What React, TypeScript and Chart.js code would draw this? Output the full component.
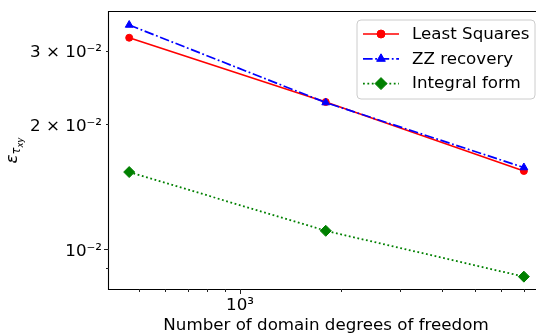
import React, { useEffect, useRef } from 'react';
import { Chart, registerables } from 'chart.js';

Chart.register(...registerables);

// ---- data ----
const dofs = [468, 1800, 7000];
const leastSquares = [0.0322, 0.02256, 0.0154];
const zzRecovery = [0.03455, 0.02249, 0.0157];
const integralForm = [0.01531, 0.01106, 0.00858];
const seriesNames = ['Least Squares', 'ZZ recovery', 'Integral form'];

const xRange = [407.5, 7980];
const yRange = [0.008013, 0.03713];

const xLabelledTicks = [1000];
const xTickLabels = ['10³'];
const xMajorTicks = [1000];
const xMinorTicks = [500, 600, 700, 800, 900, 2000, 3000, 4000, 5000, 6000, 7000];

const yLabelledTicks = [0.01, 0.02, 0.03];
const yTickLabels = ['10⁻²', '2 × 10⁻²', '3 × 10⁻²'];
const yMajorTicks = [0.01];
const yMinorTicks = [0.008, 0.009, 0.02, 0.03];

const xTitle = 'Number of domain degrees of freedom';
const yTitleParts = ['ε', 'τ', 'xy'];

const FONT = '"DejaVu Sans", sans-serif';
const FS = 16.7;

function drawMarker(ctx: CanvasRenderingContext2D, style: string, x: number, y: number, r: number, color: string) {
  ctx.save();
  ctx.fillStyle = color;
  ctx.strokeStyle = color;
  ctx.lineWidth = 1;
  ctx.setLineDash([]);
  ctx.beginPath();
  if (style === 'circle') {
    ctx.arc(x, y, r, 0, Math.PI * 2);
  } else if (style === 'triangle') {
    for (let k = 0; k < 3; k++) {
      const a = (k * 2 * Math.PI) / 3;
      const px = x + Math.sin(a) * r;
      const py = y - Math.cos(a) * r;
      if (k === 0) ctx.moveTo(px, py);
      else ctx.lineTo(px, py);
    }
    ctx.closePath();
  } else {
    ctx.moveTo(x - r, y);
    ctx.lineTo(x, y - r);
    ctx.lineTo(x + r, y);
    ctx.lineTo(x, y + r);
    ctx.closePath();
  }
  ctx.fill();
  ctx.stroke();
  ctx.restore();
}

const mplPlugin = {
  id: 'mplAxes',
  afterDatasetsDraw(chart: any) {
    const { ctx, chartArea: a, scales } = chart;
    const xs = scales.x;
    const ys = scales.y;
    ctx.save();
    // spines
    ctx.strokeStyle = '#000';
    ctx.lineWidth = 1.1;
    ctx.setLineDash([]);
    ctx.beginPath();
    ctx.rect(a.left - 0.5, a.top - 0.5, a.right - a.left + 1, a.bottom - a.top + 1);
    ctx.stroke();
    // ticks
    ctx.lineWidth = 1;
    ctx.strokeStyle = '#222';
    const inX = (v: number) => v >= xRange[0] && v <= xRange[1];
    const inY = (v: number) => v >= yRange[0] && v <= yRange[1];
    const xt = (vals: number[], len: number) => {
      vals.filter(inX).forEach((v) => {
        const px = Math.round(xs.getPixelForValue(v)) + 0.5;
        ctx.beginPath();
        ctx.moveTo(px, a.bottom);
        ctx.lineTo(px, a.bottom + len);
        ctx.stroke();
      });
    };
    const yt = (vals: number[], len: number) => {
      vals.filter(inY).forEach((v) => {
        const py = Math.round(ys.getPixelForValue(v)) + 0.5;
        ctx.beginPath();
        ctx.moveTo(a.left, py);
        ctx.lineTo(a.left - len, py);
        ctx.stroke();
      });
    };
    xt(xMajorTicks, 5);
    xt(xMinorTicks, 3);
    yt(yMajorTicks, 5);
    yt(yMinorTicks, 3);

    // legend
    const bw = 178;
    const bh = 79;
    const bx = a.right - 8 - bw;
    const by = a.top + 8;
    const rr = 4;
    ctx.beginPath();
    ctx.moveTo(bx + rr, by);
    ctx.lineTo(bx + bw - rr, by);
    ctx.arcTo(bx + bw, by, bx + bw, by + rr, rr);
    ctx.lineTo(bx + bw, by + bh - rr);
    ctx.arcTo(bx + bw, by + bh, bx + bw - rr, by + bh, rr);
    ctx.lineTo(bx + rr, by + bh);
    ctx.arcTo(bx, by + bh, bx, by + bh - rr, rr);
    ctx.lineTo(bx, by + rr);
    ctx.arcTo(bx, by, bx + rr, by, rr);
    ctx.closePath();
    ctx.fillStyle = 'rgba(255,255,255,0.8)';
    ctx.fill();
    ctx.strokeStyle = '#cccccc';
    ctx.lineWidth = 1;
    ctx.stroke();

    chart.data.datasets.forEach((ds: any, i: number) => {
      const cy = by + 14 + i * 24.8;
      const x0 = bx + 6;
      const x1 = bx + 42;
      ctx.save();
      ctx.strokeStyle = ds.borderColor;
      ctx.lineWidth = ds.borderWidth;
      ctx.setLineDash(ds.borderDash || []);
      ctx.beginPath();
      ctx.moveTo(x0, cy);
      ctx.lineTo(x1, cy);
      ctx.stroke();
      ctx.restore();
      drawMarker(ctx, ds.pointStyle, (x0 + x1) / 2, cy, ds.pointRadius + 0.5, ds.borderColor);
      ctx.fillStyle = '#000';
      ctx.font = `${FS}px ${FONT}`;
      ctx.textBaseline = 'middle';
      ctx.textAlign = 'left';
      ctx.fillText(ds.label, bx + 55, cy + 0.5);
    });

    // y title (rotated, with nested subscripts)
    ctx.save();
    ctx.translate(17, (a.top + a.bottom) / 2);
    ctx.rotate(-Math.PI / 2);
    ctx.fillStyle = '#000';
    ctx.textBaseline = 'alphabetic';
    ctx.textAlign = 'left';
    const f0 = `italic ${FS}px ${FONT}`;
    const f1 = `italic ${FS * 0.7}px ${FONT}`;
    const f2 = `italic ${FS * 0.5}px ${FONT}`;
    ctx.font = f0;
    const w0 = ctx.measureText(yTitleParts[0]).width;
    ctx.font = f1;
    const w1 = ctx.measureText(yTitleParts[1]).width;
    ctx.font = f2;
    const w2 = ctx.measureText(yTitleParts[2]).width;
    const total = w0 + w1 + w2;
    let cx = -total / 2;
    ctx.font = f0;
    ctx.fillText(yTitleParts[0], cx, 0);
    cx += w0;
    ctx.font = f1;
    ctx.fillText(yTitleParts[1], cx, 3);
    cx += w1;
    ctx.font = f2;
    ctx.fillText(yTitleParts[2], cx, 6);
    ctx.restore();

    ctx.restore();
  },
};

export default function App() {
  const ref = useRef<HTMLCanvasElement | null>(null);
  useEffect(() => {
    if (!ref.current) return;
    const mk = (vals: number[]) => dofs.map((d, i) => ({ x: d, y: vals[i] }));
    const chart = new Chart(ref.current, {
      type: 'line',
      data: {
        datasets: [
          {
            label: seriesNames[0],
            data: mk(leastSquares),
            borderColor: '#ff0000',
            backgroundColor: '#ff0000',
            pointBackgroundColor: '#ff0000',
            pointBorderColor: '#ff0000',
            pointStyle: 'circle',
            pointRadius: 3.5,
            pointBorderWidth: 1,
            borderWidth: 1.7,
            order: 1,
          },
          {
            label: seriesNames[1],
            data: mk(zzRecovery),
            borderColor: '#0000ff',
            backgroundColor: '#0000ff',
            pointBackgroundColor: '#0000ff',
            pointBorderColor: '#0000ff',
            pointStyle: 'triangle',
            pointRadius: 4.5,
            pointBorderWidth: 1,
            borderWidth: 1.7,
            borderDash: [9.6, 2.6, 1.8, 2.6],
            order: 0,
          },
          {
            label: seriesNames[2],
            data: mk(integralForm),
            borderColor: '#008000',
            backgroundColor: '#008000',
            pointBackgroundColor: '#008000',
            pointBorderColor: '#008000',
            pointStyle: 'rectRot',
            pointRadius: 5.5,
            pointBorderWidth: 1,
            borderWidth: 1.8,
            borderDash: [1.8, 2.6],
            order: 2,
          },
        ],
      },
      options: {
        animation: false,
        responsive: false,
        devicePixelRatio: 1,
        layout: { autoPadding: false, padding: { top: 12, right: 1, bottom: 0, left: 0 } },
        plugins: { legend: { display: false }, tooltip: { enabled: false } },
        elements: { line: { tension: 0 } },
        scales: {
          x: {
            type: 'logarithmic',
            min: xRange[0],
            max: xRange[1],
            grid: { display: false, drawTicks: false },
            border: { display: false },
            ticks: {
              autoSkip: false,
              maxRotation: 0,
              padding: 6.3,
              color: '#000',
              font: { family: FONT, size: FS },
              callback: (_v: any, i: number) => xTickLabels[i],
            },
            title: {
              display: true,
              text: xTitle,
              color: '#000',
              font: { family: FONT, size: FS, lineHeight: 1 },
              padding: { top: 0, bottom: 0 },
            },
            afterBuildTicks: (s: any) => {
              s.ticks = xLabelledTicks.map((v) => ({ value: v }));
            },
            afterFit: (s: any) => {
              s.height = 45;
              s.paddingLeft = 0;
              s.paddingRight = 0;
            },
          },
          y: {
            type: 'logarithmic',
            min: yRange[0],
            max: yRange[1],
            grid: { display: false, drawTicks: false },
            border: { display: false },
            ticks: {
              autoSkip: false,
              padding: 7,
              labelOffset: 2.5,
              color: '#000',
              font: { family: FONT, size: FS },
              callback: (_v: any, i: number) => yTickLabels[i],
            },
            afterBuildTicks: (s: any) => {
              s.ticks = yLabelledTicks.map((v) => ({ value: v }));
            },
            afterFit: (s: any) => {
              s.width = 109;
              s.paddingTop = 0;
              s.paddingBottom = 0;
            },
          },
        },
      },
      plugins: [mplPlugin],
    });
    return () => chart.destroy();
  }, []);

  return (
    <div style={{ position: 'fixed', left: 0, top: 0, width: 536, height: 334, overflow: 'hidden', background: '#fff' }}>
      <canvas ref={ref} width={544} height={334} style={{ display: 'block', width: 544, height: 334 }} />
    </div>
  );
}
